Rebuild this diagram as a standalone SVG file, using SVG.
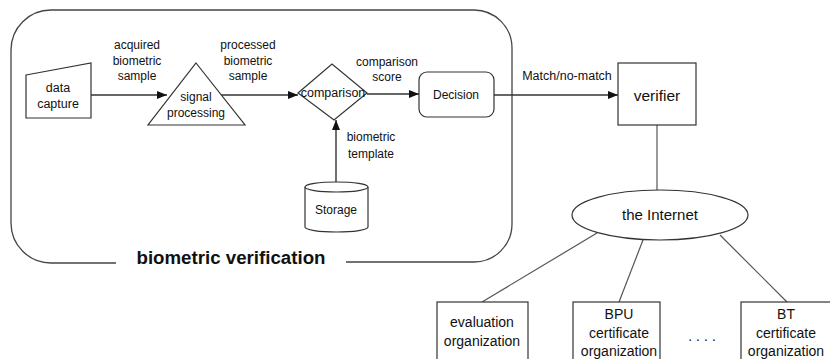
<svg xmlns="http://www.w3.org/2000/svg" width="830" height="359" viewBox="0 0 830 359">
  <style>
    text { font-family: "Liberation Sans", Arial, sans-serif; fill: #111; text-anchor: middle; }
    .lbl { font-size: 12px; }
    .big { font-size: 14px; }
    .shape { fill: #fff; stroke: #333; stroke-width: 1.2; }
    .flow { fill: none; stroke: #333; stroke-width: 1.4; marker-end: url(#arrow); }
    .net { fill: none; stroke: #555; stroke-width: 1.2; }
  </style>
  <defs>
    <marker id="arrow" markerWidth="10" markerHeight="8" refX="10" refY="4" orient="auto" markerUnits="userSpaceOnUse">
      <path d="M0,0 L10,4 L0,8 Z" fill="#111"/>
    </marker>
  </defs>
  <rect width="830" height="359" fill="#fff"/>

  <!-- verification boundary, bottom edge broken for its title -->
  <g id="boundary">
    <path d="M116,263 L51,263 A40,40 0 0 1 11,223 L11,50 A40,40 0 0 1 51,10 L474,10 A38,38 0 0 1 512,48 L512,224 A38,38 0 0 1 474,262 L346,262" fill="none" stroke="#444" stroke-width="1.3"/>
    <text x="231" y="264" style="font-size:18.7px;font-weight:bold">biometric verification</text>
  </g>

  <!-- connectors -->
  <g id="connectors">
    <path class="flow" d="M91,95 L167,95"/>
    <path class="flow" d="M220,95 L298,95"/>
    <path class="flow" d="M367,94 L419,94"/>
    <path class="flow" d="M494,95 L618,95"/>
    <path class="flow" d="M336,182 L336,120"/>
    <path d="M657,125 L657,190" fill="none" stroke="#999" stroke-width="2"/>
    <path class="net" d="M597,233 L482,302"/>
    <path class="net" d="M643,240 L619,302"/>
    <path class="net" d="M720,235 L787,302"/>
    <text class="lbl" x="137" y="49">acquired</text>
    <text class="lbl" x="137" y="65">biometric</text>
    <text class="lbl" x="137" y="80">sample</text>
    <text class="lbl" x="248" y="49">processed</text>
    <text class="lbl" x="248" y="65">biometric</text>
    <text class="lbl" x="248" y="80">sample</text>
    <text class="lbl" x="387" y="66">comparison</text>
    <text class="lbl" x="387" y="81">score</text>
    <text class="lbl" x="371" y="141">biometric</text>
    <text class="lbl" x="371" y="158">template</text>
    <text x="567" y="80" style="font-size:12.5px">Match/no-match</text>
  </g>

  <g id="data-capture">
    <path class="shape" d="M26,75 L91,63 L91,118 L26,118 Z"/>
    <text x="58" y="92" style="font-size:12.5px">data</text>
    <text x="58" y="108" style="font-size:12.5px">capture</text>
  </g>

  <g id="signal-processing">
    <path class="shape" d="M196,63 L245,125 L148,125 Z"/>
    <text class="lbl" x="196" y="101">signal</text>
    <text class="lbl" x="196" y="117">processing</text>
  </g>

  <g id="comparison">
    <path class="shape" d="M298,93 L332,64 L367,93 L334,120 Z"/>
    <text x="333" y="97" style="font-size:12.5px">comparison</text>
  </g>

  <g id="decision">
    <rect class="shape" x="419" y="72" width="75" height="45" rx="8"/>
    <text class="lbl" x="456" y="99">Decision</text>
  </g>

  <g id="storage">
    <path class="shape" d="M305,187 L305,227 A31.5,5 0 0 0 368,227 L368,187"/>
    <ellipse class="shape" cx="336.5" cy="187" rx="31.5" ry="5"/>
    <text class="lbl" x="336" y="214">Storage</text>
  </g>

  <g id="verifier">
    <rect class="shape" x="618" y="63" width="78" height="62"/>
    <text x="657" y="101" style="font-size:15.5px">verifier</text>
  </g>

  <g id="internet">
    <ellipse class="shape" cx="660" cy="215" rx="88" ry="25"/>
    <text x="660" y="220" style="font-size:15px">the Internet</text>
  </g>

  <g id="evaluation-organization">
    <rect class="shape" x="437" y="302" width="91" height="70"/>
    <text class="big" x="482" y="327">evaluation</text>
    <text class="big" x="482" y="346">organization</text>
  </g>

  <g id="bpu-certificate-organization">
    <rect class="shape" x="573" y="302" width="87" height="70"/>
    <text class="big" x="619" y="319">BPU</text>
    <text class="big" x="619" y="338">certificate</text>
    <text class="big" x="619" y="356">organization</text>
  </g>

  <g id="ellipsis">
    <text class="big" x="704" y="341" style="letter-spacing:4px">....</text>
  </g>

  <g id="bt-certificate-organization">
    <rect class="shape" x="741" y="302" width="95" height="70"/>
    <text class="big" x="786" y="319">BT</text>
    <text class="big" x="786" y="338">certificate</text>
    <text class="big" x="786" y="356">organization</text>
  </g>
</svg>
